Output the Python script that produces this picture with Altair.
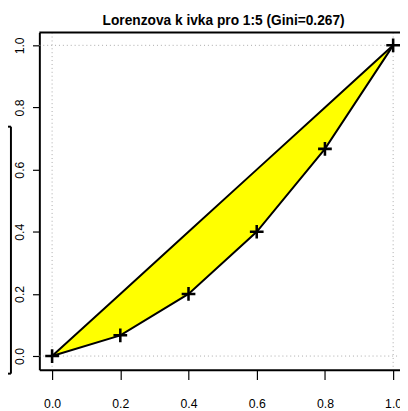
import altair as alt
import pandas as pd

# data (1:5 -> cumulative shares)
pop_share = [0.0, 0.2, 0.4, 0.6, 0.8, 1.0]
lorenz = [0.0, 0.0667, 0.2, 0.4, 0.6667, 1.0]
diag = [0.0, 0.2, 0.4, 0.6, 0.8, 1.0]
ref_lines = [0.0, 1.0]
ticks = [0.0, 0.2, 0.4, 0.6, 0.8, 1.0]
title_text = "Lorenzova k ivka pro 1:5 (Gini=0.267)"

df = pd.DataFrame({"x": pop_share, "L": lorenz, "d": diag})
ref = pd.DataFrame({"v": ref_lines})
one = pd.DataFrame({"a": [0]})

W, H = 368, 344
FONT = "Liberation Sans, Arial, sans-serif"

xs = alt.Scale(domain=[-0.03736, 1.0201], nice=False, zero=False)
ys = alt.Scale(domain=[-0.044, 1.041], nice=False, zero=False)

xaxis = alt.Axis(values=ticks, format=".1f", title=None, tickSize=10, labelPadding=19,
                 grid=False, domainWidth=2, tickWidth=1.2, labelFlush=False)
yaxis = alt.Axis(values=ticks, format=".1f", title=None, tickSize=7, labelPadding=6,
                 labelAngle=270, labelAlign="center", labelBaseline="bottom",
                 grid=False, domainWidth=2, tickWidth=1.2, labelFlush=False)

area = alt.Chart(df).mark_area(color="#ffff00", opacity=1).encode(
    x=alt.X("x:Q", scale=xs, axis=xaxis),
    y=alt.Y("d:Q", scale=ys, axis=yaxis),
    y2="L:Q",
)

hgrid = alt.Chart(ref).mark_rule(color="#a8a8a8", strokeDash=[1, 3], strokeWidth=1).encode(
    y=alt.Y("v:Q", scale=ys), x=alt.value(0), x2=alt.value(W)
)
vgrid = alt.Chart(ref).mark_rule(color="#a8a8a8", strokeDash=[1, 3], strokeWidth=1).encode(
    x=alt.X("v:Q", scale=xs), y=alt.value(0), y2=alt.value(H)
)

lor_line = alt.Chart(df).mark_line(color="black", strokeWidth=2).encode(
    x=alt.X("x:Q", scale=xs), y=alt.Y("L:Q", scale=ys)
)
diag_line = alt.Chart(df).mark_line(color="black", strokeWidth=2).encode(
    x=alt.X("x:Q", scale=xs), y=alt.Y("d:Q", scale=ys)
)
pts = alt.Chart(df).mark_point(
    shape="M-1,0L1,0M0,-1L0,1", size=196, stroke="black", strokeWidth=2.6, filled=False, opacity=1
).encode(x=alt.X("x:Q", scale=xs), y=alt.Y("L:Q", scale=ys))

top_border = alt.Chart(one).mark_rule(color="black", strokeWidth=2).encode(
    x=alt.value(0), x2=alt.value(W), y=alt.value(0)
)

# fragment of a neighbouring frame at the left edge
frag_v = alt.Chart(one).mark_rule(color="black", strokeWidth=2).encode(
    x=alt.value(-29), y=alt.value(96), y2=alt.value(348)
)
frag_t = alt.Chart(one).mark_rule(color="black", strokeWidth=2).encode(
    x=alt.value(-33), x2=alt.value(-29), y=alt.value(96)
)
frag_b = alt.Chart(one).mark_rule(color="black", strokeWidth=2).encode(
    x=alt.value(-33), x2=alt.value(-29), y=alt.value(348)
)

chart = alt.layer(
    hgrid, vgrid, area, lor_line, diag_line, pts, top_border, frag_v, frag_t, frag_b
).properties(
    width=W, height=H,
    title=alt.TitleParams(title_text, font=FONT, fontSize=14, fontWeight="bold",
                          anchor="middle", offset=4, dx=4, color="black"),
    autosize=alt.AutoSizeParams(type="none"),
    padding={"left": 32, "top": 21, "right": 0, "bottom": 37},
).configure_view(stroke=None).configure_axis(
    labelFont=FONT, labelFontSize=12.5, labelColor="black",
    domainColor="black", tickColor="black",
)

chart.save("out.html", embed_options={"renderer": "svg", "actions": False})
